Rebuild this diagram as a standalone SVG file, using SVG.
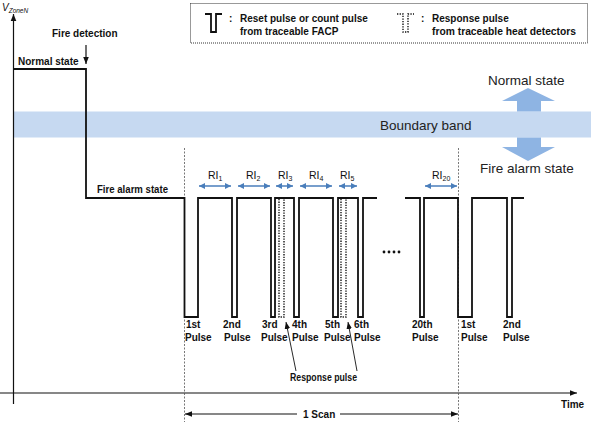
<svg xmlns="http://www.w3.org/2000/svg" width="591" height="423" viewBox="0 0 591 423">
<style>
.t{font-family:"Liberation Sans",Arial,sans-serif;font-weight:bold;font-size:10px;fill:#111}
.r{font-family:"Liberation Sans",Arial,sans-serif;font-size:13.5px;fill:#222}
.ri{font-family:"Liberation Sans",Arial,sans-serif;font-size:10.5px;fill:#111}
.sub{font-size:7px}
.ln{fill:none;stroke:#111;stroke-width:1.8;stroke-linejoin:miter}
.ax{fill:none;stroke:#111;stroke-width:1.2}
.dot{fill:none;stroke:#111;stroke-width:1.4;stroke-dasharray:1.3 1.3}
.dash{fill:none;stroke:#555;stroke-width:0.8;stroke-dasharray:2 1.5}
.blue{fill:none;stroke:#4a7ebb;stroke-width:1.5}
</style>
<defs>
<marker id="ah" viewBox="0 0 10 10" refX="10" refY="5" markerWidth="7" markerHeight="7" markerUnits="userSpaceOnUse" orient="auto-start-reverse"><path d="M0,1 L10,5 L0,9 z" fill="#111"/></marker>
<marker id="bh" viewBox="0 0 10 10" refX="10" refY="5" markerWidth="6" markerHeight="6" markerUnits="userSpaceOnUse" orient="auto-start-reverse"><path d="M0,0 L10,5 L0,10 z" fill="#4a7ebb"/></marker>
</defs>

<!-- boundary band -->
<g id="band">
<rect x="14" y="111.5" width="577" height="26" fill="#c6d9f1"/>
<text class="r" x="380" y="130">Boundary band</text>
</g>

<!-- state arrows -->
<g id="state-arrows">
<polygon points="528,88 555,101 541,101 541,111.5 517,111.5 517,101 502,101" fill="#8eb4e3"/>
<polygon points="517,137.5 541,137.5 541,147 555,147 528,161 502,147 517,147" fill="#8eb4e3"/>
<text class="r" x="488" y="85">Normal state</text>
<text class="r" x="480" y="173">Fire alarm state</text>
</g>

<!-- legend -->
<g id="legend">
<rect x="190.5" y="3.5" width="397" height="39.5" fill="none" stroke="#333" stroke-width="1" stroke-dasharray="1 1"/>
<path class="ln" d="M205 14 H211 V32 H216 V14 H222" stroke-width="1.6"/>
<text class="t" x="229" y="22">:</text>
<text class="t" x="240" y="22">Reset pulse or count pulse</text>
<text class="t" x="240" y="35">from traceable FACP</text>
<path class="dot" d="M397 14 H403 V32 H408 V14 H414"/>
<text class="t" x="421" y="22">:</text>
<text class="t" x="432" y="22">Response pulse</text>
<text class="t" x="432" y="35" textLength="144" lengthAdjust="spacingAndGlyphs">from traceable heat detectors</text>
</g>

<!-- axes -->
<g id="axes">
<line class="ax" x1="13.5" y1="404" x2="13.5" y2="14" marker-end="url(#ah)"/>
<line class="ax" x1="0" y1="393" x2="577" y2="393" marker-end="url(#ah)"/>
<text x="2" y="11" font-family="Liberation Sans,Arial,sans-serif" font-style="italic" font-size="10" fill="#111">V<tspan font-size="6.5" dy="1.5">ZoneN</tspan></text>
<text class="t" x="561" y="408">Time</text>
</g>

<!-- scan markers -->
<g id="scan">
<line class="dash" x1="184.5" y1="148" x2="184.5" y2="422"/>
<line class="dash" x1="458.5" y1="148" x2="458.5" y2="422"/>
<line class="ax" x1="297" y1="414" x2="185" y2="414" marker-end="url(#ah)"/>
<line class="ax" x1="340" y1="414" x2="458" y2="414" marker-end="url(#ah)"/>
<text class="t" x="303" y="418">1 Scan</text>
</g>

<!-- labels left -->
<g id="labels">
<text class="t" x="52" y="37">Fire detection</text>
<text class="t" x="18" y="65">Normal state</text>
<text class="t" x="97" y="193" textLength="71" lengthAdjust="spacingAndGlyphs">Fire alarm state</text>
</g>

<!-- connectors / signal -->
<g id="connectors">
<line class="ax" x1="86" y1="45" x2="86" y2="64" marker-end="url(#ah)"/>
<path class="ln" d="M13.5 69 H86 V198 H184.5 V317 H198 V198 H232 V317 H237 V198 H271 V317 H275 V198 H294 V317 H299 V198 H333 V317 H338 V198 H358 V317 H363 V198 H377"/>
<path class="ln" d="M405 198 H420 V317 H424 V198 H458 V317 H472 V198 H507 V317 H512 V198 H524"/>
<path class="dot" d="M279 199 V317 H284 V199"/>
<path class="dot" d="M341 199 V317 H346 V199"/>
<line x1="296" y1="371" x2="286" y2="322" stroke="#111" stroke-width="0.9" marker-end="url(#ah)"/>
<line x1="357" y1="371" x2="348" y2="322" stroke="#111" stroke-width="0.9" marker-end="url(#ah)"/>
<line class="blue" x1="199" y1="186" x2="231" y2="186" marker-start="url(#bh)" marker-end="url(#bh)"/>
<line class="blue" x1="238" y1="186" x2="270" y2="186" marker-start="url(#bh)" marker-end="url(#bh)"/>
<line class="blue" x1="276" y1="186" x2="293" y2="186" marker-start="url(#bh)" marker-end="url(#bh)"/>
<line class="blue" x1="300" y1="186" x2="332" y2="186" marker-start="url(#bh)" marker-end="url(#bh)"/>
<line class="blue" x1="339" y1="186" x2="357" y2="186" marker-start="url(#bh)" marker-end="url(#bh)"/>
<line class="blue" x1="425" y1="186" x2="457" y2="186" marker-start="url(#bh)" marker-end="url(#bh)"/>
</g>

<g id="ri-labels">
<text class="ri" x="208" y="179">RI<tspan class="sub" dy="2">1</tspan></text>
<text class="ri" x="246" y="179">RI<tspan class="sub" dy="2">2</tspan></text>
<text class="ri" x="278" y="179">RI<tspan class="sub" dy="2">3</tspan></text>
<text class="ri" x="309" y="179">RI<tspan class="sub" dy="2">4</tspan></text>
<text class="ri" x="340" y="179">RI<tspan class="sub" dy="2">5</tspan></text>
<text class="ri" x="432" y="179">RI<tspan class="sub" dy="2">20</tspan></text>
</g>

<g id="dots">
<circle cx="384" cy="252" r="1.4" fill="#111"/>
<circle cx="389" cy="252" r="1.4" fill="#111"/>
<circle cx="394" cy="252" r="1.4" fill="#111"/>
<circle cx="399" cy="252" r="1.4" fill="#111"/>
</g>

<g id="pulse-labels">
<text class="t" x="186" y="328">1st</text><text class="t" x="185" y="341">Pulse</text>
<text class="t" x="223" y="328">2nd</text><text class="t" x="224" y="341">Pulse</text>
<text class="t" x="262" y="328">3rd</text><text class="t" x="261" y="341">Pulse</text>
<text class="t" x="292" y="328">4th</text><text class="t" x="292" y="341">Pulse</text>
<text class="t" x="325" y="328">5th</text><text class="t" x="324" y="341">Pulse</text>
<text class="t" x="354" y="328">6th</text><text class="t" x="354" y="341">Pulse</text>
<text class="t" x="412" y="328">20th</text><text class="t" x="412" y="341">Pulse</text>
<text class="t" x="461" y="328">1st</text><text class="t" x="461" y="341">Pulse</text>
<text class="t" x="503" y="328">2nd</text><text class="t" x="503" y="341">Pulse</text>
<text class="t" x="290" y="381" textLength="67" lengthAdjust="spacingAndGlyphs">Response pulse</text>
</g>
</svg>
